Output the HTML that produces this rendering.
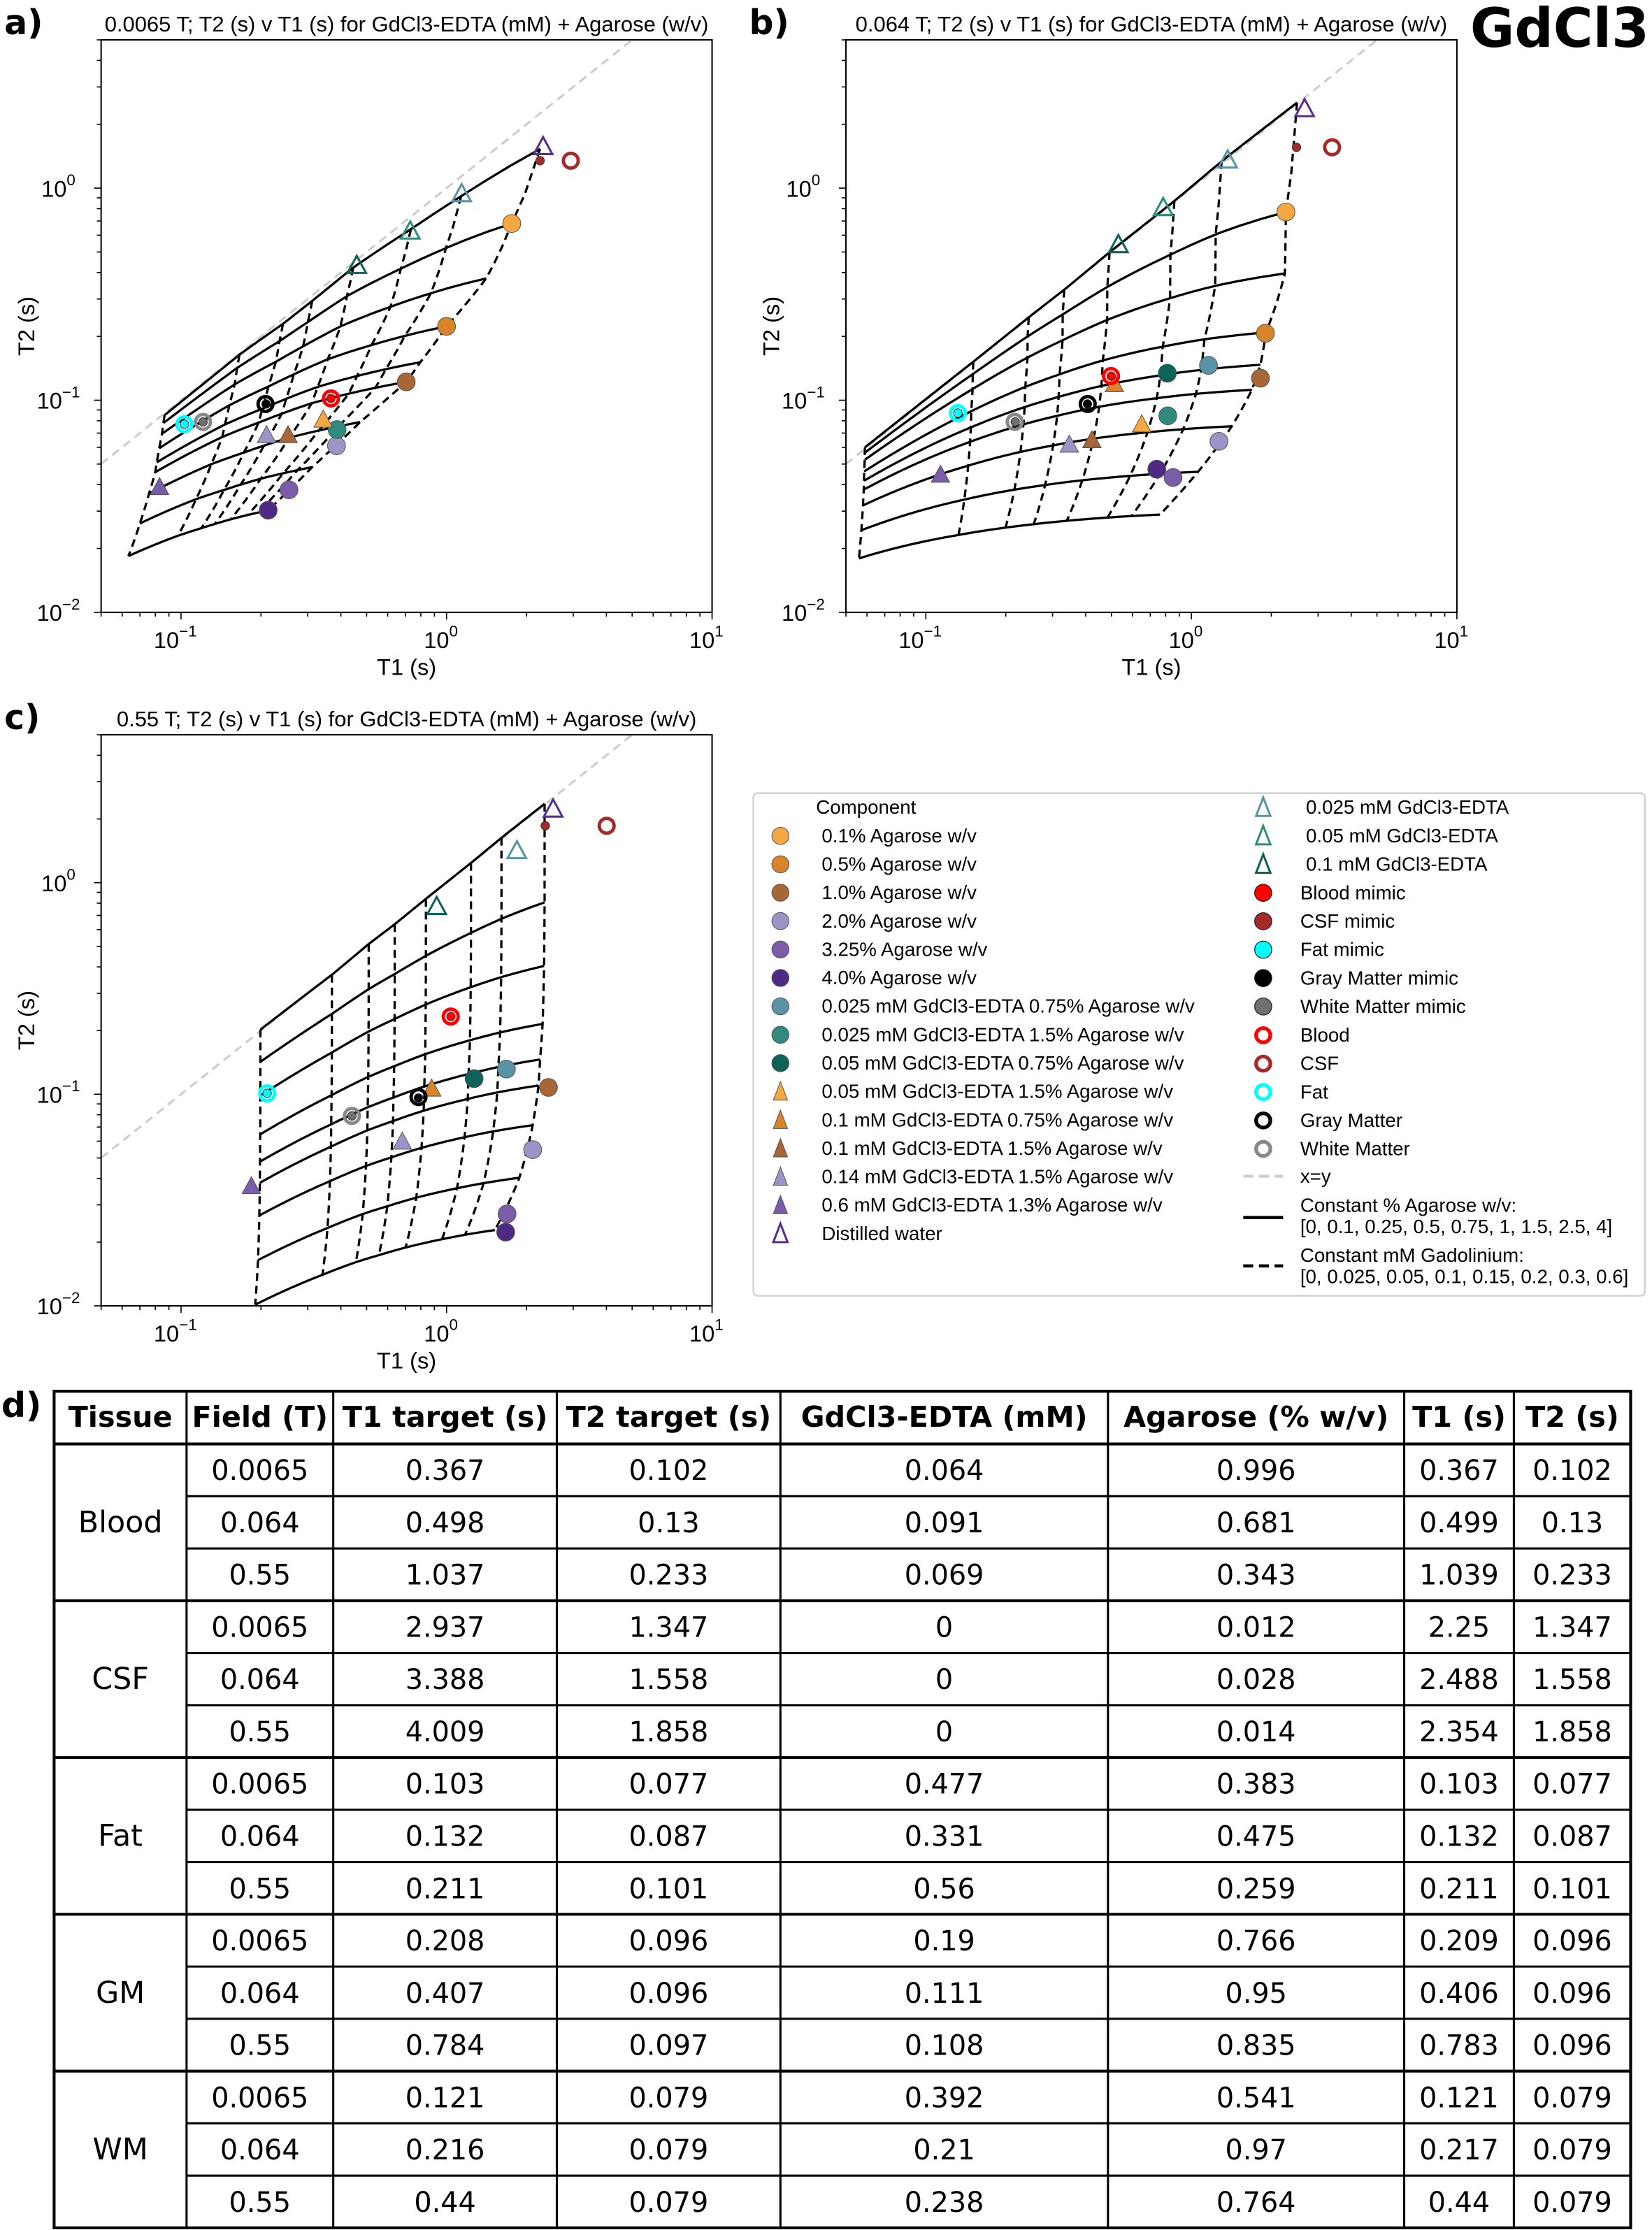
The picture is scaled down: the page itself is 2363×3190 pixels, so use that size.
<!DOCTYPE html>
<html><head><meta charset="utf-8">
<style>
html,body{margin:0;padding:0;background:#fff;}
svg{display:block;font-family:"Liberation Sans","DejaVu Sans",sans-serif;}
</style></head>
<body>
<svg id="fig" width="2363" height="3190" viewBox="0 0 1160 1566" preserveAspectRatio="none" xmlns="http://www.w3.org/2000/svg">
<rect x="0" y="0" width="1160" height="1566" fill="#fff"/>
<text x="1158" y="33" text-anchor="end" font-size="38" font-weight="bold" font-family="DejaVu Sans, sans-serif">GdCl3</text>
<text x="3" y="24" font-size="24" font-weight="bold" font-family="DejaVu Sans, sans-serif">a)</text>
<text x="526" y="24" font-size="24" font-weight="bold" font-family="DejaVu Sans, sans-serif">b)</text>
<text x="3" y="512" font-size="24" font-weight="bold" font-family="DejaVu Sans, sans-serif">c)</text>
<text x="1" y="995" font-size="24" font-weight="bold" font-family="DejaVu Sans, sans-serif">d)</text>
<g id="plots"></g>
<g id="legend"></g>
<g id="table"></g>
</svg>
<script>
// ---------- data ----------
const agaroseLevels = [0, 0.1, 0.25, 0.5, 0.75, 1, 1.5, 2.5, 4];
const gdLevels = [0, 0.025, 0.05, 0.1, 0.15, 0.2, 0.3, 0.6];
const fieldsT = ["0.0065", "0.064", "0.55"];
// grid edge values (T1/T2 in s)
const gridA_gdT1 = [2.25, 1.135, 0.734, 0.445, 0.312, 0.242, 0.166, 0.0867];
const gridA_gdT2 = [1.53, 0.916, 0.640, 0.422, 0.294, 0.229, 0.164, 0.0851];
const gridA_agT1 = [2.25, 1.76, 1.41, 1.0, 0.796, 0.705, 0.473, 0.312, 0.213];
const gridA_agT2 = [1.53, 0.681, 0.375, 0.223, 0.151, 0.122, 0.0789, 0.0484, 0.0303];
const gridB_gdT1 = [2.50, 1.30, 0.863, 0.492, 0.332, 0.244, 0.151, 0.059];
const gridB_gdT2 = [2.53, 1.34, 0.869, 0.499, 0.332, 0.246, 0.152, 0.060];
const gridB_agT1 = [2.50, 2.27, 2.25, 1.91, 1.82, 1.69, 1.42, 1.06, 0.762];
const gridB_agT2 = [2.53, 0.772, 0.396, 0.209, 0.147, 0.112, 0.0754, 0.046, 0.0289];
const gridC_gdT1 = [2.34, 1.61, 1.236, 0.836, 0.638, 0.509, 0.370, 0.199];
const gridC_gdT2 = [2.36, 1.63, 1.24, 0.839, 0.636, 0.513, 0.367, 0.202];
const gridC_agT1 = [2.34, 2.34, 2.33, 2.30, 2.25, 2.22, 2.11, 1.88, 1.52];
const gridC_agT2 = [2.36, 0.807, 0.404, 0.215, 0.146, 0.110, 0.0714, 0.0403, 0.0228];
const crossT2 = [4.25, 2, 21];

const seriesNames = ["0.1% Agarose w/v","0.5% Agarose w/v","1.0% Agarose w/v","2.0% Agarose w/v","3.25% Agarose w/v","4.0% Agarose w/v","0.025 mM GdCl3-EDTA 0.75% Agarose w/v","0.025 mM GdCl3-EDTA 1.5% Agarose w/v","0.05 mM GdCl3-EDTA 0.75% Agarose w/v","0.05 mM GdCl3-EDTA 1.5% Agarose w/v","0.1 mM GdCl3-EDTA 0.75% Agarose w/v","0.1 mM GdCl3-EDTA 1.5% Agarose w/v","0.14 mM GdCl3-EDTA 1.5% Agarose w/v","0.6 mM GdCl3-EDTA 1.3% Agarose w/v","Distilled water","0.025 mM GdCl3-EDTA","0.05 mM GdCl3-EDTA","0.1 mM GdCl3-EDTA"];
const seriesA_T1 = [1.76,1.0,0.705,0.385,0.255,0.213,null,0.387,null,0.343,null,0.253,0.210,0.083,2.31,1.14,0.73,0.459];
const seriesA_T2 = [0.681,0.223,0.122,0.061,0.0378,0.0303,null,0.0727,null,0.080,null,0.0676,0.0676,0.0385,1.55,0.93,0.62,0.427];
const seriesB_T1 = [2.27,1.90,1.82,1.27,0.853,0.741,1.16,0.815,0.812,0.650,0.513,0.422,0.347,0.1135,2.67,1.37,0.783,0.531];
const seriesB_T2 = [0.772,0.207,0.127,0.064,0.0432,0.0473,0.146,0.0844,0.134,0.076,0.1175,0.064,0.061,0.044,2.34,1.34,0.80,0.535];
const seriesC_T1 = [null,null,2.42,2.11,1.69,1.67,1.68,null,1.27,null,0.879,null,0.681,0.184,2.52,1.84,null,0.918];
const seriesC_T2 = [null,null,0.1077,0.0547,0.0272,0.0223,0.1315,null,0.1185,null,0.105,null,0.059,0.0363,2.20,1.40,null,0.762];

const tissues = ["Blood","CSF","Fat","GM","WM"];
const targetT1 = [[0.367,0.498,1.037],[2.937,3.388,4.009],[0.103,0.132,0.211],[0.208,0.407,0.784],[0.121,0.216,0.44]];
const targetT2 = [[0.102,0.13,0.233],[1.347,1.558,1.858],[0.077,0.087,0.101],[0.096,0.096,0.097],[0.079,0.079,0.079]];
const gdConc = [["0.064","0.091","0.069"],["0","0","0"],["0.477","0.331","0.56"],["0.19","0.111","0.108"],["0.392","0.21","0.238"]];
const agConc = [["0.996","0.681","0.343"],["0.012","0.028","0.014"],["0.383","0.475","0.259"],["0.766","0.95","0.835"],["0.541","0.97","0.764"]];
const mimicT1 = [[0.367,0.499,1.039],[2.25,2.488,2.354],[0.103,0.132,0.211],[0.209,0.406,0.783],[0.121,0.217,0.44]];
const mimicT2 = [[0.102,0.13,0.233],[1.347,1.558,1.858],[0.077,0.087,0.101],[0.096,0.096,0.096],[0.079,0.079,0.079]];

// ---------- styles ----------
const seriesStyle = [
 ["c","#f5a742"],["c","#d8842a"],["c","#a86536"],["c","#9c94c9"],["c","#7a5ca8"],["c","#4e2a84"],
 ["c","#5a93a5"],["c","#2e8b7e"],["c","#0d6359"],
 ["t","#f5a742"],["t","#d8842a"],["t","#a86536"],["t","#9c94c9"],["t","#7a5ca8"],
 ["o","#5a2d91"],["o","#5a93a5"],["o","#2e8b7e"],["o","#0d6359"]];
const mimicColor = ["#ff0000","#a52a2a","#00ffff","#000000","#707070"];
const ringColor = ["#ff0000","#a52a2a","#00ffff","#000000","#888888"];

const NS = "http://www.w3.org/2000/svg";
function mk(tag, attrs, parent){const e=document.createElementNS(NS,tag);for(const k in attrs)e.setAttribute(k,attrs[k]);if(parent)parent.appendChild(e);return e;}

const panels = [
 {id:"a", x0:71,x1:500,y0:28,y1:430, title:"0.0065 T; T2 (s) v T1 (s) for GdCl3-EDTA (mM) + Agarose (w/v)",
  gdT1:gridA_gdT1,gdT2:gridA_gdT2,agT1:gridA_agT1,agT2:gridA_agT2,k:crossT2[0],sT1:seriesA_T1,sT2:seriesA_T2,f:0},
 {id:"b", x0:594,x1:1023,y0:28,y1:430, title:"0.064 T; T2 (s) v T1 (s) for GdCl3-EDTA (mM) + Agarose (w/v)",
  gdT1:gridB_gdT1,gdT2:gridB_gdT2,agT1:gridB_agT1,agT2:gridB_agT2,k:crossT2[1],sT1:seriesB_T1,sT2:seriesB_T2,f:1},
 {id:"c", x0:71,x1:500,y0:516,y1:917, title:"0.55 T; T2 (s) v T1 (s) for GdCl3-EDTA (mM) + Agarose (w/v)",
  gdT1:gridC_gdT1,gdT2:gridC_gdT2,agT1:gridC_agT1,agT2:gridC_agT2,k:crossT2[2],sT1:seriesC_T1,sT2:seriesC_T2,f:2}
];

function interpRate(levels, vals, v){
  for(let i=0;i<levels.length-1;i++){
    if(v<=levels[i+1]){const t=(v-levels[i])/(levels[i+1]-levels[i]);return (1-t)/vals[i]+t/vals[i+1];}
  }
  return 1/vals[vals.length-1];
}

const plots = document.getElementById("plots");
panels.forEach(p=>{
  const g = mk("g",{},plots);
  
  
  const lx0=Math.log10(0.05), lx1=1, ly0=-2, ly1=Math.log10(5);
  const X = v => p.x0 + (Math.log10(v)-lx0)/(lx1-lx0)*(p.x1-p.x0);
  const Y = v => p.y1 - (Math.log10(v)-ly0)/(ly1-ly0)*(p.y1-p.y0);
  const clipId = "clip"+p.id;
  const cp = mk("clipPath",{id:clipId},g);
  mk("rect",{x:p.x0,y:p.y0,width:p.x1-p.x0,height:p.y1-p.y0},cp);
  const tt = mk("text",{x:(p.x0+p.x1)/2,y:p.y0-6,"text-anchor":"middle","font-size":"15.2"},g);
  
  
  tt.textContent = p.title;
  const inner = mk("g",{"clip-path":"url(#"+clipId+")"},g);
  const xy = mk("line",{x1:X(0.05),y1:Y(0.05),x2:X(5),y2:Y(5),stroke:"#cccccc","stroke-width":"1.5","stroke-dasharray":"6,4"},inner);
  
  
  const r1w = 1/p.agT1[0], r2w = 1/p.agT2[0];
  function node(A,G){
    const R1 = interpRate(agaroseLevels,p.agT1,A) + interpRate(gdLevels,p.gdT1,G) - r1w;
    const R2 = interpRate(agaroseLevels,p.agT2,A) + interpRate(gdLevels,p.gdT2,G) - r2w + p.k*A*G;
    return [X(1/R1), Y(1/R2)];
  }
  agaroseLevels.forEach((A,i)=>{
    let d="";
    for(let s=0;s<=80;s++){const G=0.6*s/80;const [x,y]=node(A,G);d+=(s?"L":"M")+x.toFixed(2)+","+y.toFixed(2);}
    const pth=mk("path",{d:d,fill:"none",stroke:"#000","stroke-width":"1.6"},inner);
    
    
  });
  gdLevels.forEach((G,j)=>{
    let d="";
    for(let s=0;s<=80;s++){const A=4*s/80;const [x,y]=node(A,G);d+=(s?"L":"M")+x.toFixed(2)+","+y.toFixed(2);}
    const pth=mk("path",{d:d,fill:"none",stroke:"#000","stroke-width":"1.6","stroke-dasharray":"5.5,3.5"},inner);
    
    
  });
  seriesNames.forEach((nm,i)=>{
    const t1=p.sT1[i], t2=p.sT2[i];
    if(t1==null||t2==null) return;
    const x=X(t1), y=Y(t2), st=seriesStyle[i];
    let el;
    if(st[0]==="c") el=mk("circle",{cx:x,cy:y,r:6.3,fill:st[1],stroke:"#555","stroke-width":"0.5"},inner);
    else if(st[0]==="t") el=mk("path",{d:`M${x},${y-7.5}L${x+6.5},${y+4.5}L${x-6.5},${y+4.5}Z`,fill:st[1],stroke:"#555","stroke-width":"0.5"},inner);
    else el=mk("path",{d:`M${x},${y-7.5}L${x+6.5},${y+4.5}L${x-6.5},${y+4.5}Z`,fill:"none",stroke:st[1],"stroke-width":"1.5"},inner);
    
    
  });
  tissues.forEach((t,k)=>{
    const rx=X(targetT1[k][p.f]), ry=Y(targetT2[k][p.f]);
    const ring=mk("circle",{cx:rx,cy:ry,r:5.2,fill:"none",stroke:ringColor[k],"stroke-width":"2.4"},inner);
    
    
    const dot=mk("circle",{cx:X(mimicT1[k][p.f]),cy:Y(mimicT2[k][p.f]),r:3,fill:mimicColor[k],stroke:"#333","stroke-width":"0.5"},inner);
    
    
  });
  const box=mk("rect",{x:p.x0,y:p.y0,width:p.x1-p.x0,height:p.y1-p.y0,fill:"none",stroke:"#000","stroke-width":"1"},g);
  
  
  for(let e=-2;e<=1;e++){for(let m=1;m<10;m++){
    const v=m*Math.pow(10,e);
    const len = m===1?5:3;
    if(v>=0.05-1e-9 && v<=10+1e-9){const x=X(v);mk("line",{x1:x,y1:p.y1,x2:x,y2:p.y1+len,stroke:"#000","stroke-width":"0.8"},g);}
    if(v>=0.01-1e-9 && v<=5+1e-9){const y=Y(v);mk("line",{x1:p.x0,y1:y,x2:p.x0-len,y2:y,stroke:"#000","stroke-width":"0.8"},g);}
  }}
  [-1,0,1].forEach(e=>{
    const t=mk("text",{x:X(Math.pow(10,e))-4,y:p.y1+25,"text-anchor":"middle","font-size":"16"},g);
    
    
    t.innerHTML='10<tspan dy="-8" font-size="11">'+(e<0?'\u2212':'')+Math.abs(e)+'</tspan>';
  });
  [-2,-1,0].forEach(e=>{
    const t=mk("text",{x:p.x0-30,y:Y(Math.pow(10,e))+6,"text-anchor":"middle","font-size":"16"},g);
    
    
    t.innerHTML='10<tspan dy="-8" font-size="11">'+(e<0?'\u2212':'')+Math.abs(e)+'</tspan>';
  });
  const xl=mk("text",{x:(p.x0+p.x1)/2,y:p.y1+44,"text-anchor":"middle","font-size":"16"},g);
  
  
  xl.textContent="T1 (s)";
  const yc=(p.y0+p.y1)/2;
  const yl=mk("text",{x:p.x0-47,y:yc,"text-anchor":"middle","font-size":"16",transform:`rotate(-90 ${p.x0-47} ${yc})`},g);
  
  
  yl.textContent="T2 (s)";
});

// ---------- legend ----------
const lg=document.getElementById("legend");


mk("rect",{x:529,y:557,width:626,height:353,rx:3,fill:"#fff",stroke:"#d0d0d0","stroke-width":"1.2"},lg);
const FS="13.6";
function ltext(x,y,s){const t=mk("text",{x:x,y:y+4.5,"font-size":FS},lg);t.textContent=s;return t;}
const hdr=ltext(573,567,"Component");


const leftOrder=[0,1,2,3,4,5,6,7,8,9,10,11,12,13,14];
leftOrder.forEach((si,k)=>{
  const y=587+k*19.95, x=548, st=seriesStyle[si];
  const gg=mk("g",{},lg);
  
  
  if(st[0]==="c") mk("circle",{cx:x,cy:y,r:6,fill:st[1],stroke:"#555","stroke-width":"0.5"},gg);
  else if(st[0]==="t") mk("path",{d:`M${x},${y-7}L${x+5},${y+6}L${x-5},${y+6}Z`,fill:st[1],stroke:"#555","stroke-width":"0.5"},gg);
  else mk("path",{d:`M${x},${y-7}L${x+5},${y+6}L${x-5},${y+6}Z`,fill:"none",stroke:st[1],"stroke-width":"1.5"},gg);
  const t=mk("text",{x:577,y:y+4.5,"font-size":FS},gg);t.textContent=seriesNames[si];
});
[15,16,17].forEach((si,k)=>{
  const y=567+k*19.95,x=887,st=seriesStyle[si];
  const gg=mk("g",{},lg);
  
  
  mk("path",{d:`M${x},${y-7}L${x+5},${y+6}L${x-5},${y+6}Z`,fill:"none",stroke:st[1],"stroke-width":"1.5"},gg);
  const t=mk("text",{x:917,y:y+4.5,"font-size":FS},gg);t.textContent=seriesNames[si];
});
const mimicNames=["Blood mimic","CSF mimic","Fat mimic","Gray Matter mimic","White Matter mimic"];
const ringNames=["Blood","CSF","Fat","Gray Matter","White Matter"];
mimicNames.forEach((n,k)=>{
  const y=627+k*19.95;
  const gg=mk("g",{},lg);
  
  
  mk("circle",{cx:887,cy:y,r:6,fill:mimicColor[k],stroke:"#222","stroke-width":"0.6"},gg);
  const t=mk("text",{x:913,y:y+4.5,"font-size":FS},gg);t.textContent=n;
});
ringNames.forEach((n,k)=>{
  const y=727+k*19.95;
  const gg=mk("g",{},lg);
  
  
  mk("circle",{cx:887,cy:y,r:5,fill:"none",stroke:ringColor[k],"stroke-width":"2.6"},gg);
  const t=mk("text",{x:913,y:y+4.5,"font-size":FS},gg);t.textContent=n;
});
(function(){
  const gg=mk("g",{},lg);
  
  
  mk("line",{x1:873,y1:826,x2:901,y2:826,stroke:"#ccc","stroke-width":"2","stroke-dasharray":"7,4"},gg);
  const t=mk("text",{x:913,y:830.5,"font-size":FS},gg);t.textContent="x=y";
  const g2=mk("g",{},lg);
  
  
  mk("line",{x1:873,y1:855,x2:901,y2:855,stroke:"#000","stroke-width":"2.2"},g2);
  let a=mk("text",{x:913,y:851,"font-size":FS},g2);a.textContent="Constant % Agarose w/v:";
  a=mk("text",{x:913,y:866,"font-size":FS},g2);a.textContent="[0, 0.1, 0.25, 0.5, 0.75, 1, 1.5, 2.5, 4]";
  const g3=mk("g",{},lg);
  
  
  mk("line",{x1:873,y1:889,x2:901,y2:889,stroke:"#000","stroke-width":"2.2","stroke-dasharray":"7,4"},g3);
  a=mk("text",{x:913,y:886,"font-size":FS},g3);a.textContent="Constant mM Gadolinium:";
  a=mk("text",{x:913,y:901,"font-size":FS},g3);a.textContent="[0, 0.025, 0.05, 0.1, 0.15, 0.2, 0.3, 0.6]";
})();

// ---------- table ----------
const tb=document.getElementById("table");


const colX=[38,131,234,391,548,778,986,1063,1145];
const headers=["Tissue","Field (T)","T1 target (s)","T2 target (s)","GdCl3-EDTA (mM)","Agarose (% w/v)","T1 (s)","T2 (s)"];
const top0=977, hH=37, rH=36.7;
headers.forEach((h,i)=>{
  const t=mk("text",{x:(colX[i]+colX[i+1])/2,y:top0+25,"text-anchor":"middle","font-size":"20.3","font-weight":"bold","font-family":"DejaVu Sans, sans-serif"},tb);
  
  
  t.textContent=h;
});
tissues.forEach((ts,k)=>{
  for(let f=0;f<3;f++){
    const r=k*3+f, y=top0+hH+r*rH+rH/2+7;
    const vals=[fieldsT[f],String(targetT1[k][f]),String(targetT2[k][f]),gdConc[k][f],agConc[k][f],String(mimicT1[k][f]),String(mimicT2[k][f])];
    vals.forEach((v,i)=>{
      const t=mk("text",{x:(colX[i+1]+colX[i+2])/2,y:y,"text-anchor":"middle","font-size":"19.5","font-family":"DejaVu Sans, sans-serif"},tb);
      
      
      t.textContent=v;
    });
  }
  const ty=top0+hH+k*3*rH+1.5*rH+7;
  const t=mk("text",{x:(colX[0]+colX[1])/2,y:ty,"text-anchor":"middle","font-size":"21","font-family":"DejaVu Sans, sans-serif"},tb);
  
  
  t.textContent=ts;
});
const bottom=top0+hH+15*rH;
mk("rect",{x:colX[0],y:top0,width:colX[8]-colX[0],height:bottom-top0,fill:"none",stroke:"#000","stroke-width":"2"},tb);
colX.slice(1,8).forEach(x=>mk("line",{x1:x,y1:top0,x2:x,y2:bottom,stroke:"#000","stroke-width":"1.5"},tb));
mk("line",{x1:colX[0],y1:top0+hH,x2:colX[8],y2:top0+hH,stroke:"#000","stroke-width":"2"},tb);
for(let r=1;r<15;r++){
  const y=top0+hH+r*rH;
  const x1 = (r%3===0)?colX[0]:colX[1];
  mk("line",{x1:x1,y1:y,x2:colX[8],y2:y,stroke:"#000","stroke-width":(r%3===0)?"2":"1.5"},tb);
}
</script>
</body></html>
